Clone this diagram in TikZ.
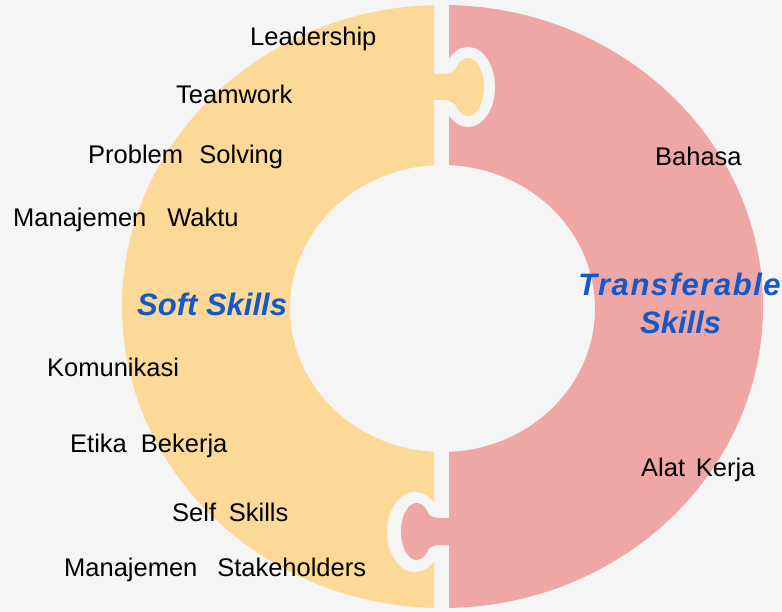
\documentclass[tikz,border=0pt]{standalone}
\usepackage{fontspec}
\setmainfont{Liberation Sans}
\definecolor{bg}{HTML}{F5F5F5}
\definecolor{softc}{HTML}{FCD997}
\definecolor{transc}{HTML}{EFA7A6}
\definecolor{titlec}{HTML}{1558C8}
\tikzset{
  lbl/.style={font=\fontsize{25.5}{30}\selectfont, anchor=base west, inner sep=0pt, text=black},
  ttl/.style={font=\fontsize{31}{37}\selectfont\bfseries\itshape, anchor=base west, inner sep=0pt, text=titlec}
}
\newcommand{\wsp}[1]{\hspace{#1em}}
\begin{document}
\begin{tikzpicture}[x=1pt,y=-1pt]
\fill[bg] (0,0) rectangle (782,612);
\useasboundingbox (0,0) rectangle (782,612);
% left half
\begin{scope}
  \clip (-10,-10) rectangle (434,622);
  \fill[softc,even odd rule] (442.5,306.5) ellipse [x radius=320.5pt, y radius=301.5pt]
                             (442.5,308.5) ellipse [x radius=152.5pt, y radius=143.5pt];
\end{scope}
% right half
\begin{scope}
  \clip (449,-10) rectangle (792,622);
  \fill[transc,even odd rule] (442.5,306.5) ellipse [x radius=320.5pt, y radius=301.5pt]
                              (442.5,308.5) ellipse [x radius=152.5pt, y radius=143.5pt];
\end{scope}
% top knob (yellow into pink)
\fill[bg] (468,87) ellipse [x radius=27pt, y radius=40pt];
\fill[softc] (430,74) -- (443,74) .. controls (449,74) and (452,72) .. (456,69) -- (460,87)
             -- (456,105) .. controls (452,102) and (449,100) .. (443,100) -- (430,100) -- cycle;
\fill[softc] (468,87) ellipse [x radius=16pt, y radius=29pt];
% bottom knob (pink into yellow)
\fill[bg] (415,532) ellipse [x radius=28pt, y radius=40pt];
\fill[transc] (453,518) -- (440,518) .. controls (434,518) and (431,516) .. (428,514) -- (424,531.5)
              -- (428,549) .. controls (431,547) and (434,545) .. (440,545) -- (453,545) -- cycle;
\fill[transc] (416.5,531.5) ellipse [x radius=15.5pt, y radius=28.5pt];
% labels
\node[lbl] (lead) at (250,46) {Leadership};
\node[lbl] (team) at (176,104) {Teamwork};
\node[lbl] (prob) at (88,164) {Problem\wsp{0.64}Solving};
\node[lbl] (waktu) at (13,227) {Manajemen\wsp{0.82}Waktu};
\node[lbl] (komu) at (47,377) {Komunikasi};
\node[lbl] (etika) at (70,452) {Etika\wsp{0.55}Bekerja};
\node[lbl] (self) at (172,521) {Self\wsp{0.5}Skills};
\node[lbl] (stake) at (64,576) {Manajemen\wsp{0.78}Stakeholders};
\node[lbl] (bahasa) at (655,166) {Bahasa};
\node[lbl] (alat) at (641,476) {Alat\wsp{0.42}Kerja};
\node[ttl] (soft) at (137,316) {Soft Skills};
\node[ttl] (trans1) at (578,296) {\addfontfeature{LetterSpace=5}Transferable};
\node[ttl] (trans2) at (640,334) {Skills};
\end{tikzpicture}
\end{document}
